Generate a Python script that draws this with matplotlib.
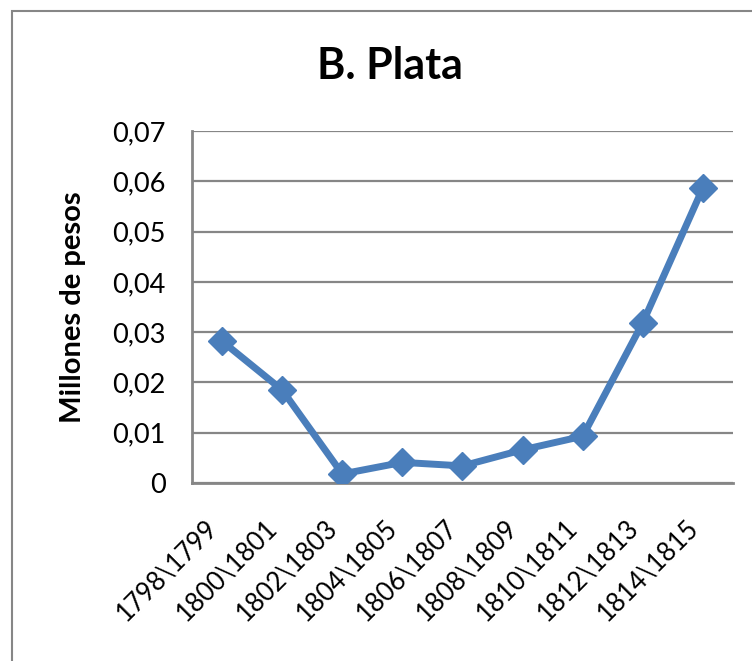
import matplotlib
matplotlib.use("Agg")
import matplotlib.pyplot as plt
from matplotlib.patches import Rectangle
from matplotlib.ticker import FuncFormatter, MultipleLocator

plt.rcParams['font.family'] = ['Lato', 'DejaVu Sans']

periods = ["1798\\1799", "1800\\1801", "1802\\1803", "1804\\1805", "1806\\1807",
           "1808\\1809", "1810\\1811", "1812\\1813", "1814\\1815"]
plata = [0.0282, 0.0185, 0.0018, 0.0041, 0.0034, 0.0066, 0.0093, 0.0319, 0.0587]

grey = "#868686"
blue = "#4A7EBB"

fig = plt.figure(figsize=(7.52, 6.61), dpi=100)
ax = fig.add_axes([192/752, 1-483/661, (733-192)/752, (483-131)/661])

# chart-area border (cropped on the right and bottom in the original)
fig.patches.append(Rectangle((12/752, -0.1), 1.2, 1.1 - 11/661, transform=fig.transFigure,
                             fill=False, edgecolor=grey, lw=1.5))

x = list(range(len(periods)))
ax.plot(x, plata, color=blue, lw=5, marker='D', markersize=14, zorder=3)

ax.set_xlim(-0.5, len(periods) - 0.5)
ax.set_ylim(0, 0.07)
ax.yaxis.set_major_locator(MultipleLocator(0.01))
ax.yaxis.set_major_formatter(FuncFormatter(lambda v, p: "0" if abs(v) < 1e-9 else ("%.2f" % v).replace(".", ",")))
ax.grid(axis='y', color=grey, lw=1.6)
ax.set_axisbelow(True)
for s in ['top', 'right']:
    ax.spines[s].set_visible(False)
for s in ['left', 'bottom']:
    ax.spines[s].set_color(grey)
    ax.spines[s].set_linewidth(2)

ax.set_xticks(x)
ax.set_xticklabels(periods, rotation=45, ha='right', rotation_mode='default')
ax.tick_params(axis='x', length=0, pad=23, labelsize=18.5)
ax.tick_params(axis='y', length=0, pad=19, labelsize=19.5)

fig.text(390/752, 1-66/661, "B. Plata", ha='center', va='center', fontsize=31, fontweight='bold')
fig.text(73/752, 1-307/661, "Millones de pesos", ha='center', va='center', rotation=90,
         fontsize=21, fontweight='bold')

fig.savefig("out.png", dpi=100)
